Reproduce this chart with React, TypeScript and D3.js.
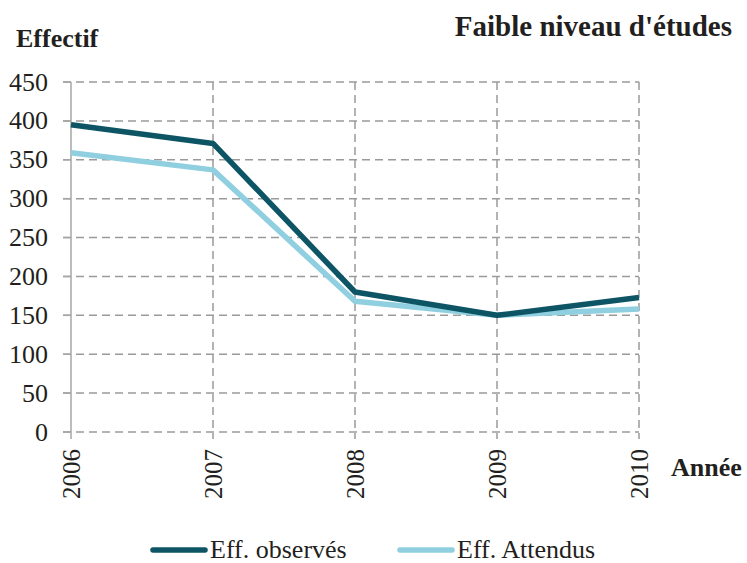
import React, { useRef, useEffect } from 'react';
import * as d3 from 'd3';

const years = ['2006', '2007', '2008', '2009', '2010'];
const observes = [395, 371, 180, 150, 173];
const attendus = [359, 337, 168, 150, 158];
const yTicks = [0, 50, 100, 150, 200, 250, 300, 350, 400, 450];

const seriesNames = ['Eff. observés', 'Eff. Attendus'];
const seriesColors = ['#0d5564', '#8fcfe0'];

const App: React.FC = () => {
    const svgRef = useRef<SVGSVGElement | null>(null);

    useEffect(() => {
        if (!svgRef.current) return;
        const svg = d3.select(svgRef.current);
        svg.selectAll('*').remove();

        const x = d3.scalePoint<string>().domain(years).range([71, 639]);
        const y = d3.scaleLinear().domain([0, 450]).range([432, 82]);

        const grid = svg.append('g');
        // horizontal grid lines
        grid.selectAll('.hg')
            .data(yTicks)
            .enter().append('line')
            .attr('x1', 63)
            .attr('x2', 639)
            .attr('y1', d => y(d))
            .attr('y2', d => y(d))
            .attr('stroke', '#9a9a9a')
            .attr('stroke-width', 1.5)
            .attr('stroke-dasharray', '8,5');

        // vertical grid lines
        grid.selectAll('.vg')
            .data(years.slice(1))
            .enter().append('line')
            .attr('x1', d => x(d) as number)
            .attr('x2', d => x(d) as number)
            .attr('y1', 82)
            .attr('y2', 439)
            .attr('stroke', '#9a9a9a')
            .attr('stroke-width', 1.5)
            .attr('stroke-dasharray', '8,5');

        // y axis
        svg.append('line')
            .attr('x1', 71).attr('x2', 71)
            .attr('y1', 82).attr('y2', 439)
            .attr('stroke', '#a6a6a6')
            .attr('stroke-width', 1.5);

        svg.selectAll('.ytick')
            .data(yTicks)
            .enter().append('line')
            .attr('x1', 63).attr('x2', 71)
            .attr('y1', d => y(d)).attr('y2', d => y(d))
            .attr('stroke', '#a6a6a6')
            .attr('stroke-width', 1.5);

        const txt = svg.append('g')
            .attr('font-family', 'Liberation Serif, Times New Roman, serif')
            .attr('fill', '#231f20');

        txt.selectAll('.ylab')
            .data(yTicks)
            .enter().append('text')
            .attr('x', 48)
            .attr('y', d => y(d))
            .attr('dy', '0.33em')
            .attr('text-anchor', 'end')
            .attr('font-size', 26)
            .text(d => d);

        txt.selectAll('.xlab')
            .data(years)
            .enter().append('text')
            .attr('transform', d => `translate(${(x(d) as number) + 9},449) rotate(-90)`)
            .attr('text-anchor', 'end')
            .attr('font-size', 25)
            .text(d => d);

        const line = d3.line<number>()
            .x((d, i) => x(years[i]) as number)
            .y(d => y(d));

        [attendus, observes].forEach((s, k) => {
            svg.append('path')
                .datum(s)
                .attr('d', line)
                .attr('fill', 'none')
                .attr('stroke', seriesColors[1 - k])
                .attr('stroke-width', 5.5)
                .attr('stroke-linejoin', 'round');
        });

        // titles
        txt.append('text')
            .attr('x', 16).attr('y', 47)
            .attr('font-size', 26).attr('font-weight', 'bold')
            .text('Effectif');
        txt.append('text')
            .attr('x', 732).attr('y', 36)
            .attr('text-anchor', 'end')
            .attr('font-size', 29).attr('font-weight', 'bold')
            .text("Faible niveau d'études");
        txt.append('text')
            .attr('x', 671).attr('y', 476)
            .attr('font-size', 26).attr('font-weight', 'bold')
            .text('Année');

        // legend
        const legendX = [151, 398];
        const lg = svg.selectAll('.legend')
            .data(seriesNames)
            .enter().append('g')
            .attr('transform', (d, i) => `translate(${legendX[i]},550)`);
        lg.append('line')
            .attr('x1', 2).attr('x2', 54)
            .attr('y1', 0).attr('y2', 0)
            .attr('stroke', (d, i) => seriesColors[i])
            .attr('stroke-width', 5.5)
            .attr('stroke-linecap', 'round');
        lg.append('text')
            .attr('x', 59).attr('y', 8)
            .attr('font-family', 'Liberation Serif, Times New Roman, serif')
            .attr('font-size', 26)
            .attr('fill', '#231f20')
            .text(d => d);
    }, []);

    return <svg ref={svgRef} width="747" height="563" style={{ display: 'block', position: 'absolute', left: 0, top: 0 }}></svg>;
};

export default App;
